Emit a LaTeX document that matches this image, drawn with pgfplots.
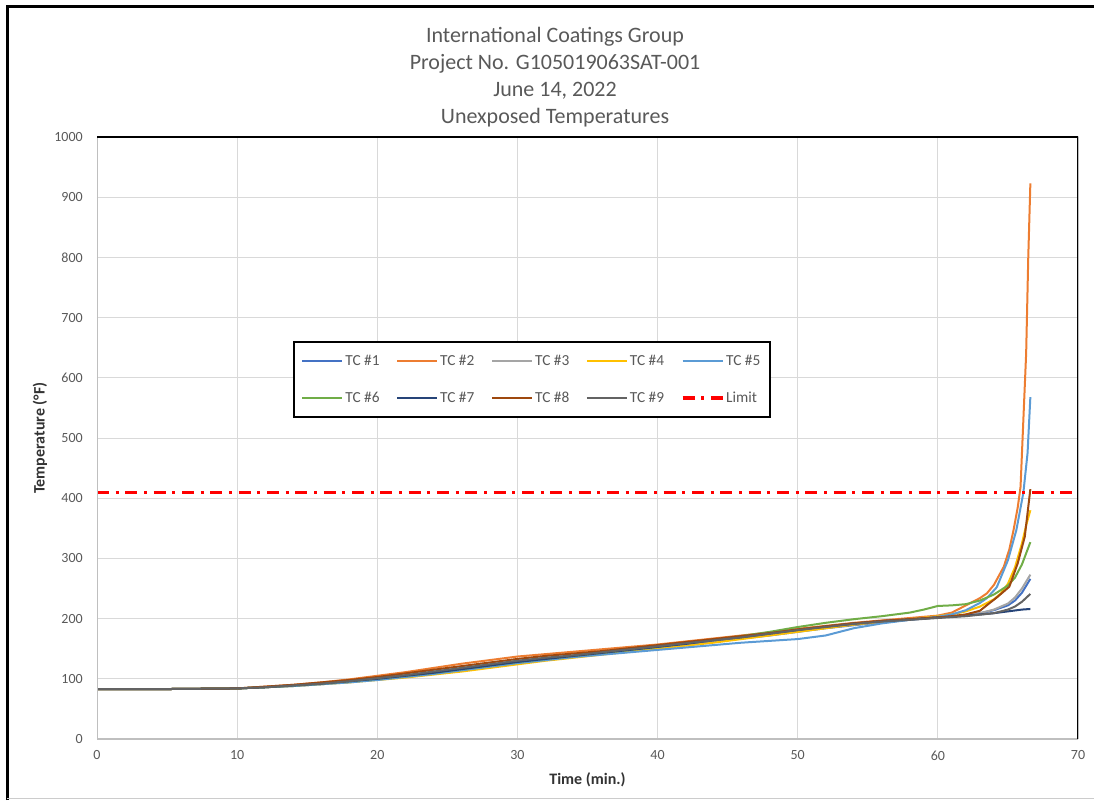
\documentclass[border=0pt]{standalone}
\usepackage{pgfplots}
\pgfplotsset{compat=1.18}
\usepackage{fontspec}
\setmainfont{Carlito}
\definecolor{txt}{HTML}{595959}
\definecolor{gridc}{HTML}{D9D9D9}
\definecolor{axc}{HTML}{BFBFBF}
\definecolor{c1}{HTML}{4472C4}
\definecolor{c2}{HTML}{ED7D31}
\definecolor{c3}{HTML}{A5A5A5}
\definecolor{c4}{HTML}{FFC000}
\definecolor{c5}{HTML}{5B9BD5}
\definecolor{c6}{HTML}{70AD47}
\definecolor{c7}{HTML}{264478}
\definecolor{c8}{HTML}{9E480E}
\definecolor{c9}{HTML}{636363}
\definecolor{lim}{HTML}{FF0000}
\begin{document}
\begin{tikzpicture}
\path[use as bounding box] (0,0) rectangle (820.5pt,600pt);
\draw[line width=2.25pt] (5.25pt,0pt) -- (5.25pt,594.75pt) -- (820.5pt,594.75pt);
\draw[gray!40, line width=0.75pt] (5.25pt,1.2pt) -- (820.5pt,1.2pt);
\begin{scope}[every node/.style={font=\fontsize{16.5}{18}\selectfont, text=txt, anchor=center}]
\node at (416.25pt,572.25pt) {International Coatings Group};
\node at (416.25pt,552pt) {Project No. G105019063SAT-001};
\node at (416.25pt,531.75pt) {June 14, 2022};
\node at (416.25pt,511.5pt) {Unexposed Temperatures};
\end{scope}
\begin{axis}[
  at={(72.75pt,45.75pt)}, anchor=south west,
  width=735.75pt, height=451.5pt, scale only axis,
  xmin=0, xmax=70, ymin=0, ymax=1000,
  xtick distance=10, ytick distance=100,
  major tick length=0pt,
  grid=major,
  grid style={color=gridc, line width=0.75pt},
  axis line style={draw=none},
  /pgf/number format/assume math mode=true,
  /pgf/number format/1000 sep={},
  tick label style={font=\fontsize{10.5}{12}\selectfont, text=txt},
  xticklabel style={inner sep=0pt, anchor=north, yshift=-8.5pt},
  yticklabel style={inner sep=0pt, anchor=east, xshift=-10.5pt},
  xlabel={\textbf{Time (min.)}},
  ylabel={\textbf{Temperature (°F)}},
  label style={font=\fontsize{12}{14}\selectfont, text=black!80},
  xlabel style={at={(axis description cs:0.5,-0.0681)}, anchor=center},
  ylabel style={at={(axis description cs:-0.0581,0.5)}, anchor=center, rotate=0},
  legend columns=5,
  legend cell align=left,
  legend style={at={(rel axis cs:0.1998,0.661)}, anchor=north west,
    draw=black, line width=1.5pt, inner xsep=5.5pt, inner ysep=7.5pt,
    font=\fontsize{11.5}{13}\selectfont, text=txt, row sep=14.5pt,
    nodes={inner xsep=1.5pt},
    /tikz/every even column/.append style={column sep=11pt}},
  legend image code/.code={\draw[#1] (0pt,0pt) -- (30pt,0pt);},
  every axis plot/.append style={line width=1.5pt, line join=round},
]
\addplot[c1] coordinates {(0,83) (5,83) (10,84) (12,86) (14,88) (16,91) (18,95) (20,99) (22,104) (24,109) (26,115) (28,122) (30,128) (32,133) (34,138) (36,142) (38,147) (40,152) (42,157) (44,162) (46,167) (48,172) (50,178) (52,184) (54,189) (56,194) (58,198) (60,202) (61,204) (62,206) (63,209) (64,214) (65,222) (65.5,230) (66,243) (66.6,266)};
\addlegendentry{TC \#1}
\addplot[c2] coordinates {(0,83) (5,83) (10,84) (12,87) (14,90) (16,94) (18,99) (20,105) (22,111) (24,118) (26,125) (28,131) (30,137) (32,141) (34,145) (36,149) (38,153) (40,157) (42,162) (44,167) (46,172) (48,177) (50,183) (52,188) (54,193) (56,197) (58,201) (60,205) (61,210) (62,222) (63,234) (63.5,242) (64,256) (64.7,286) (65.1,315) (65.4,347) (65.7,385) (65.9,419) (66.1,530) (66.3,641) (66.45,800) (66.6,923)};
\addlegendentry{TC \#2}
\addplot[c3] coordinates {(0,83) (5,83) (10,84) (12,86) (14,89) (16,92) (18,95) (20,100) (22,105) (24,110) (26,116) (28,122) (30,128) (32,133) (34,138) (36,143) (38,148) (40,153) (42,158) (44,163) (46,168) (48,174) (50,180) (52,185) (54,190) (56,194) (58,198) (60,202) (62,206) (63,209) (64,215) (65,225) (65.5,235) (66,250) (66.6,273)};
\addlegendentry{TC \#3}
\addplot[c4] coordinates {(0,83) (5,83) (10,84) (12,86) (14,88) (16,91) (18,94) (20,98) (22,102) (24,107) (26,112) (28,118) (30,124) (32,130) (34,135) (36,140) (38,145) (40,150) (42,155) (44,160) (46,166) (48,172) (50,178) (52,184) (54,190) (56,195) (58,199) (60,204) (61,207) (62,212) (63,220) (64,232) (64.5,242) (65,258) (65.5,285) (66,325) (66.3,355) (66.6,380)};
\addlegendentry{TC \#4}
\addplot[c5] coordinates {(0,83) (5,83) (10,84) (12,86) (14,88) (16,91) (18,94) (20,98) (22,103) (24,108) (26,114) (28,120) (30,126) (32,131) (34,136) (36,140) (38,144) (40,148) (42,152) (44,156) (46,160) (48,163) (50,166) (52,172) (53,178) (54,184) (56,192) (58,198) (60,203) (61,207) (62,214) (63,226) (63.5,234) (64.2,252) (65,297) (65.6,347) (66.1,409) (66.4,475) (66.6,568)};
\addlegendentry{TC \#5}
\addplot[c6] coordinates {(0,83) (5,83) (10,84) (12,86) (14,89) (16,92) (18,96) (20,100) (22,105) (24,110) (26,116) (28,122) (30,128) (32,133) (34,138) (36,143) (38,148) (40,153) (42,159) (44,165) (46,171) (48,178) (50,186) (52,193) (54,199) (56,204) (58,210) (59,215) (60,221) (61,222) (62,224) (63,230) (64,240) (65,255) (65.5,268) (66,290) (66.6,327)};
\addlegendentry{TC \#6}
\addplot[c7] coordinates {(0,83) (5,83) (10,84) (12,86) (14,89) (16,92) (18,96) (20,100) (22,105) (24,110) (26,116) (28,122) (30,128) (32,133) (34,138) (36,143) (38,148) (40,153) (42,158) (44,164) (46,169) (48,175) (50,181) (52,187) (54,192) (56,196) (58,199) (60,202) (62,205) (64,209) (65,212) (66,215) (66.6,216)};
\addlegendentry{TC \#7}
\addplot[c8] coordinates {(0,83) (5,83) (10,84) (12,87) (14,90) (16,94) (18,98) (20,103) (22,109) (24,115) (26,121) (28,127) (30,133) (32,138) (34,142) (36,146) (38,151) (40,156) (42,161) (44,166) (46,171) (48,176) (50,182) (52,187) (54,192) (56,196) (58,199) (60,202) (61,204) (62,207) (63,213) (63.7,226) (64.2,235) (65.1,253) (65.7,292) (66.2,336) (66.6,415)};
\addlegendentry{TC \#8}
\addplot[c9] coordinates {(0,83) (5,83) (10,84) (12,86) (14,89) (16,92) (18,96) (20,101) (22,106) (24,112) (26,118) (28,124) (30,130) (32,135) (34,139) (36,144) (38,149) (40,154) (42,159) (44,164) (46,169) (48,175) (50,181) (52,186) (54,191) (56,195) (58,198) (60,201) (62,204) (64,209) (65,215) (65.5,220) (66,228) (66.6,241)};
\addlegendentry{TC \#9}
\addplot[lim, line width=2.5pt, dash pattern=on 9pt off 5pt on 2.25pt off 5pt] coordinates {(0,409) (70,409)};
\addlegendentry{Limit}
\draw[axc, line width=1.2pt] (rel axis cs:0,1) -- (rel axis cs:0,0) -- (rel axis cs:1,0);
\draw[black, line width=1.5pt] (rel axis cs:0,1) -- (rel axis cs:1,1) -- (rel axis cs:1,0);
\end{axis}
\end{tikzpicture}
\end{document}
